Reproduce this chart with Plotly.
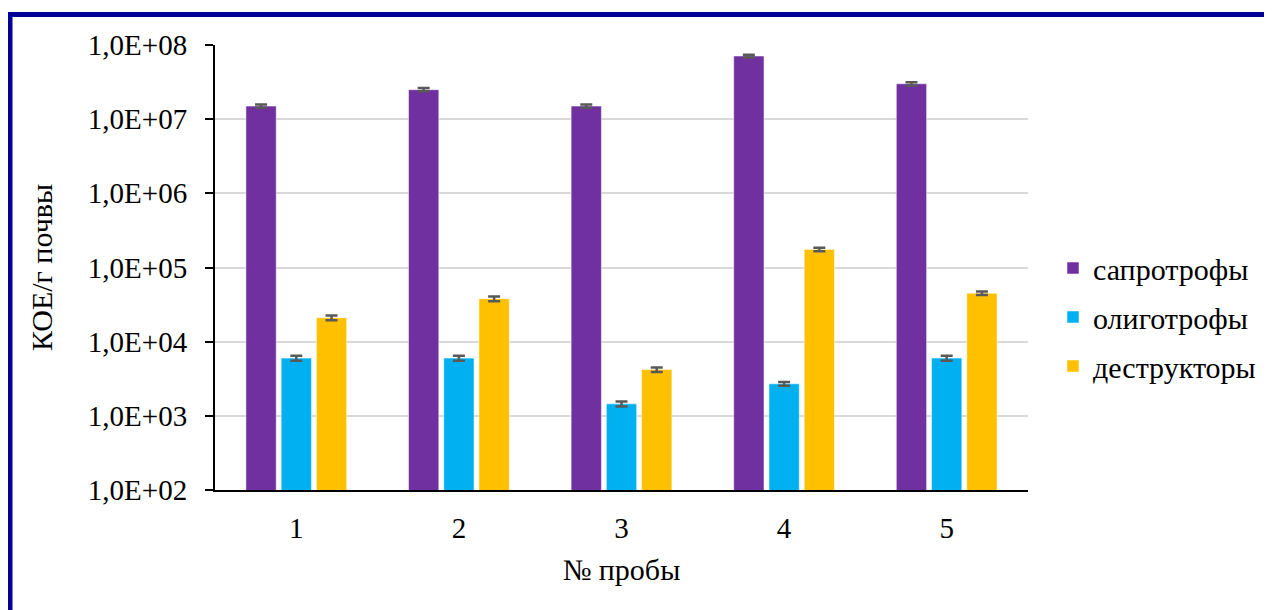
import plotly.graph_objects as go

samples = ["1", "2", "3", "4", "5"]
series_names = ["сапротрофы", "олиготрофы", "деструкторы"]
saprotrophs = [1.5e7, 2.5e7, 1.5e7, 7.1e7, 3.0e7]
oligotrophs = [6.0e3, 6.0e3, 1.45e3, 2.7e3, 6.0e3]
destructors = [2.1e4, 3.8e4, 4.2e3, 1.75e5, 4.5e4]
sapro_err = [0.8e6, 1.3e6, 0.8e6, 3.0e6, 1.5e6]
oligo_err = [4.5e2, 4.5e2, 1.1e2, 1.5e2, 4.5e2]
destr_err = [1.5e3, 2.8e3, 3.0e2, 9.0e3, 2.5e3]
colors = ["#7030A0", "#00B0F0", "#FFC000"]
y_tickvals = [1e2, 1e3, 1e4, 1e5, 1e6, 1e7, 1e8]
y_ticktext = ["1,0E+02", "1,0E+03", "1,0E+04", "1,0E+05", "1,0E+06", "1,0E+07", "1,0E+08"]

FONT = "Liberation Serif"
FS_TICK = 29
FS_TITLE = 30
FS_LEG = 30

fig = go.Figure()
for i, (vals, errs) in enumerate([(saprotrophs, sapro_err), (oligotrophs, oligo_err), (destructors, destr_err)]):
    fig.add_trace(go.Bar(
        x=samples, y=vals, name=series_names[i],
        marker=dict(color=colors[i], line=dict(color="rgba(255,255,255,0.5)", width=1)),
        error_y=dict(type="data", array=errs, visible=True, color="#595959", thickness=2.5, width=6),
        legendgroup=series_names[i],
    ))

OFF = 8
W, H = 1272, 610
L, T = 215 - OFF, 45 - OFF
R = W - (1028 - OFF)
B = H - (490 - OFF)
pw, ph = W - L - R, H - T - B

def px_x(p):
    return (p - OFF - L) / pw

def px_y(p):
    return (H - B - (p - OFF)) / ph

fig.update_layout(
    width=W, height=H,
    margin=dict(l=L, r=R, t=T, b=B, autoexpand=False),
    paper_bgcolor="white", plot_bgcolor="white",
    barmode="group", bargap=0.35, bargroupgap=0.14,
    font=dict(family=FONT, size=FS_TICK, color="black"),
    legend=dict(x=px_x(1053), y=px_y(317), xanchor="left", yanchor="middle",
                font=dict(family=FONT, size=FS_LEG), tracegroupgap=7,
                traceorder="grouped", bgcolor="rgba(0,0,0,0)"),
    xaxis=dict(showline=True, linecolor="black", linewidth=2, ticks="",
               showgrid=False, tickfont=dict(family=FONT, size=FS_TICK),
               ticklabelstandoff=11,
               title=dict(text="№ пробы", font=dict(family=FONT, size=FS_TITLE), standoff=16)),
    yaxis=dict(type="log", range=[2, 8], tickvals=y_tickvals, ticktext=y_ticktext,
               showline=True, linecolor="black", linewidth=2,
               ticks="outside", ticklen=8, tickwidth=2, tickcolor="black",
               showgrid=True, gridcolor="#D9D9D9", gridwidth=2,
               tickfont=dict(family=FONT, size=FS_TICK), ticklabelstandoff=12,
               title=dict(text="КОЕ/г почвы", font=dict(family=FONT, size=FS_TITLE), standoff=26),
               zeroline=False),
    shapes=[
        dict(type="line", xref="paper", yref="paper", x0=px_x(8), x1=px_x(1290),
             y0=px_y(14.5), y1=px_y(14.5), line=dict(color="#000099", width=5)),
        dict(type="line", xref="paper", yref="paper", x0=px_x(10), x1=px_x(10),
             y0=px_y(12), y1=px_y(640), line=dict(color="#000099", width=5)),
    ],
)

fig.write_html("out.html")
